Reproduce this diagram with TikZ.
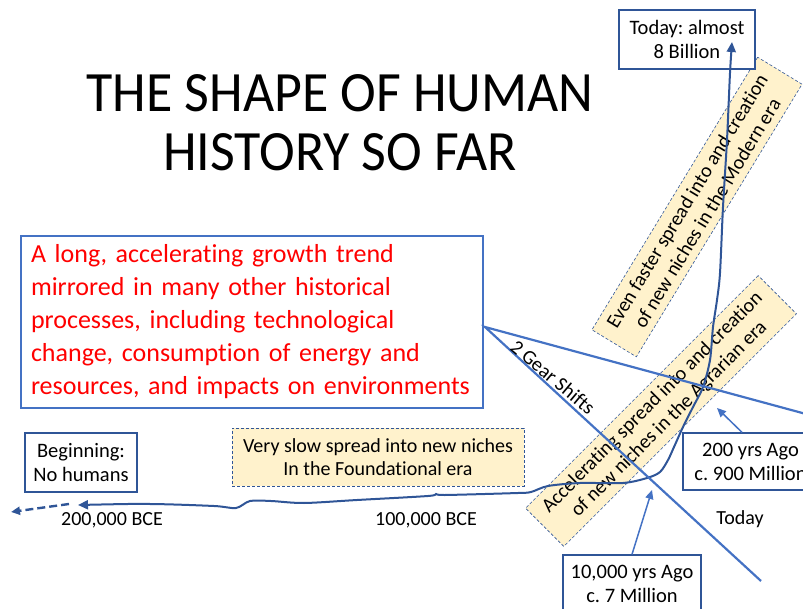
\documentclass[tikz,border=0pt]{standalone}
\usepackage{fontspec}
\setmainfont{Carlito}[Ligatures=NoCommon]
\usetikzlibrary{arrows.meta}
\definecolor{dblue}{HTML}{2F5597}
\definecolor{mblue}{HTML}{4472C4}
\definecolor{pale}{HTML}{FFF2CC}
\begin{document}
\frenchspacing
\begin{tikzpicture}[x=1pt,y=-1pt,
  lbl/.style={font=\fontsize{20}{24}\selectfont, inner sep=0pt},
  infobox/.style={draw=dblue, line width=1.3pt, fill=white, align=center, font=\fontsize{20.5}{24}\selectfont, inner sep=0pt},
  era/.style={draw=dblue, densely dashed, line width=0.6pt, fill=pale, align=center, font=\fontsize{20}{23.5}\selectfont, inner sep=0pt},
  gear/.style={draw=mblue, line width=2.2pt},
  pointer/.style={draw=mblue, line width=1.5pt, -{Triangle[length=9pt,width=8pt]}},
  curve/.style={draw=dblue, line width=2pt}]
\useasboundingbox (0,0) rectangle (803,609);
% title
\node (title) at (340,123) [font=\fontsize{57}{59}\selectfont, align=center, inner sep=0pt, xscale=0.945] {THE SHAPE OF HUMAN\\HISTORY SO FAR};
% era boxes
\node (modern) [era, rotate=58.7, minimum width=319, minimum height=52] at (697,207) {Even faster spread into and creation\\of new niches in the Modern era};
\node (agrarian) [era, rotate=45, minimum width=329, minimum height=54] at (661,411) {Accelerating spread into and creation\\of new niches in the Agrarian era};
\node (found) [era, minimum width=292, minimum height=58] at (378,457) {Very slow spread into new niches\\In the Foundational era};
% red box
\node (trend) [draw=mblue, line width=2pt, text=red, align=left, font=\fontsize{26}{33}\selectfont, text width=442, inner xsep=10pt, minimum height=172, anchor=north west] at (20,235) {A long, accelerating growth trend\\mirrored in many other historical\\processes, including technological\\change, consumption of energy and\\resources, and impacts on environments};
% info boxes
\node (today) [infobox, minimum width=136, minimum height=59] at (687,39.5) {Today: almost\\8 Billion};
\node (begin) [infobox, minimum width=112, minimum height=59] at (81,462.5) {Beginning:\\No humans};
\node (b200) [infobox, minimum width=135, minimum height=57] at (750.5,461.5) {200 yrs Ago\\c. 900 Million};
\node (b10k) [infobox, minimum width=138, minimum height=58] at (632,584) {10,000 yrs Ago\\c. 7 Million};
% labels
\node (l200k) [lbl] at (112,520) {200,000 BCE};
\node (l100k) [lbl] at (426,520) {100,000 BCE};
\node (ltoday) [lbl] at (740,519) {Today};
% population curve
\coordinate (dashend) at (11,512);
\coordinate (dashstart) at (69,504);
\draw[curve, dash pattern=on 8pt off 4pt, line width=2.4pt, -{Triangle[length=9pt,width=8pt]}] (dashstart) -- (dashend);
\draw[curve, {Triangle[length=10pt,width=9pt]}-{Triangle[length=10pt,width=9pt]}] plot[smooth, tension=0.5] coordinates {(78,505) (150,504) (214,506) (236,508) (250,501) (271,501) (304,503) (357,500) (428,496) (436,494) (445,495) (518,493) (531,492) (548,486) (580,483) (623,483) (647,478) (660,472) (668,460) (674,447) (683,427) (693,407) (703,387) (710,360) (713,327) (717,300) (720,273) (723,207) (727,140) (730,73) (732,42)};
% gear shifts
\coordinate (apex) at (485,327);
\coordinate (g1) at (806,414);
\coordinate (g2) at (761,581);
\draw[gear] (g1) -- (apex) -- (g2);
\node (gearlbl) [font=\fontsize{20}{24}\selectfont, rotate=-40, inner sep=0pt] at (553,377) {2 Gear Shifts};
% pointers
\coordinate (p200) at (717,408);
\coordinate (p10k) at (652,490);
\draw[pointer] ([xshift=-8.5pt]b200.north) -- (p200);
\draw[pointer] (b10k.north) -- (p10k);
\end{tikzpicture}
\end{document}
